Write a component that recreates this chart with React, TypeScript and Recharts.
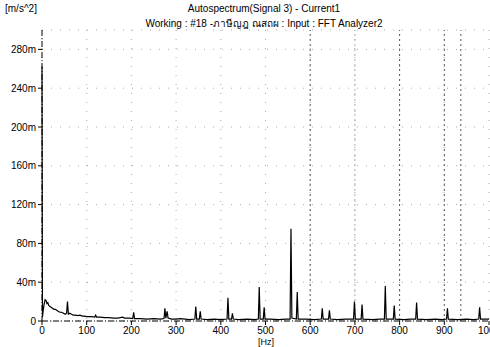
import React from 'react';
import { LineChart, Line, XAxis, YAxis, CartesianGrid, ReferenceLine } from 'recharts';

// spectrum: frequency [Hz] / amplitude [m/s^2 * 1e-3]
const freqs = [
  0, 1, 3, 5, 7, 9, 11, 13, 15, 18, 21, 24, 27, 30, 33, 36, 40, 44, 48, 52, 55, 57, 59, 62, 66, 70,
  75, 80, 85, 90, 95, 100, 110, 118, 120, 122, 130, 140, 150, 160, 170, 180, 185, 195, 203, 205, 207,
  220, 235, 250, 265, 273, 275, 277, 280, 282, 290, 300, 310, 320, 330, 342, 344, 346, 352, 354, 356,
  370, 385, 400, 414, 416, 418, 424, 426, 428, 440, 460, 475, 484, 486, 488, 495, 497, 499, 510, 530,
  545, 555, 557, 559, 569, 571, 573, 590, 610, 625, 627, 629, 641, 643, 645, 660, 680, 697, 699, 701,
  714, 716, 718, 740, 755, 766, 768, 770, 786, 788, 790, 810, 825, 836, 838, 840, 860, 880, 895, 905,
  907, 909, 930, 950, 965, 977, 979, 981, 1000,
];
const amps = [
  262, 4, 12, 18, 22, 21, 18, 19, 16, 15, 14, 13, 12, 12, 11, 10, 9, 9, 8, 7, 8, 20, 7, 8, 7, 6,
  6, 5.5, 6, 5, 5, 4.5, 4.5, 4, 6, 4, 4, 3.5, 3.5, 3, 3, 4, 3, 3, 2.5, 9, 2.5,
  2.5, 2, 2.5, 2, 2.5, 13, 3, 10, 3, 2, 2, 2.5, 2, 1.5, 2, 15, 2, 2, 10, 2,
  1.5, 2, 1.5, 2, 24, 2, 2, 8, 2, 1.5, 2, 1.5, 2, 35, 2, 2, 14, 2, 2, 1.5,
  2, 2, 95, 3, 2, 30, 2, 2, 1.5, 2, 13, 2, 2, 11, 2, 1.5, 2, 2, 20, 2,
  2, 17, 2, 1.5, 2, 2, 36, 2, 2, 16, 2, 1.5, 2, 2, 19, 2, 1.5, 2, 1.5, 2,
  13, 2, 1.5, 2, 1.5, 2, 14, 2, 2,
];
const xTicks = [0, 100, 200, 300, 400, 500, 600, 700, 800, 900, 1000];
const yTicks = [0, 40, 80, 120, 160, 200, 240, 280];
const cursorLines = [600, 700, 800, 900, 937];

const data = freqs.map((f, i) => ({ f, a: amps[i] }));

const font = '"Liberation Sans", Arial, sans-serif';
const tick = { fontSize: 10, fill: '#000', fontFamily: font };

export default function App() {
  return (
    <div style={{ position: 'absolute', left: 0, top: 0, width: 490, height: 347, background: '#fff', fontFamily: font, color: '#000' }}>
      <div style={{ position: 'absolute', left: 5, top: 3, fontSize: 10 }}>[m/s^2]</div>
      <div style={{ position: 'absolute', left: 0, width: 528, top: 3, fontSize: 10, textAlign: 'center' }}>
        Autospectrum(Signal 3) - Current1
      </div>
      <div style={{ position: 'absolute', left: 0, width: 528, top: 16, fontSize: 10, textAlign: 'center' }}>
        Working : #18 -ภาษีญฎ ณสถผ : Input : FFT Analyzer2
      </div>
      <LineChart width={490} height={347} data={data} margin={{ top: 30, right: 1, left: 4, bottom: 6 }}>
        <CartesianGrid stroke="#aaa" strokeDasharray="1 8" />
        {cursorLines.map((x) => (
          <ReferenceLine key={x} x={x} stroke={x === 700 ? '#aaa' : '#555'} strokeDasharray="2 3" />
        ))}
        <XAxis
          dataKey="f"
          type="number"
          domain={[0, 1000]}
          ticks={xTicks}
          interval={0}
          tick={tick}
          tickSize={4}
          height={20}
          axisLine={{ stroke: '#000', strokeDasharray: '6 2 1 2' }}
          tickLine={{ stroke: '#000' }}
        />
        <YAxis
          type="number"
          domain={[0, 300]}
          ticks={yTicks}
          interval={0}
          width={38}
          tick={tick}
          tickSize={4}
          tickFormatter={(v: number) => (v === 0 ? '0' : `${v}m`)}
          axisLine={{ stroke: '#000', strokeDasharray: '6 2 1 2' }}
          tickLine={{ stroke: '#000' }}
        />
        <Line type="linear" dataKey="a" stroke="#000" strokeWidth={1.2} dot={false} isAnimationActive={false} />
      </LineChart>
      <div style={{ position: 'absolute', left: 258, top: 337, fontSize: 9, lineHeight: '10px' }}>[Hz]</div>
    </div>
  );
}
